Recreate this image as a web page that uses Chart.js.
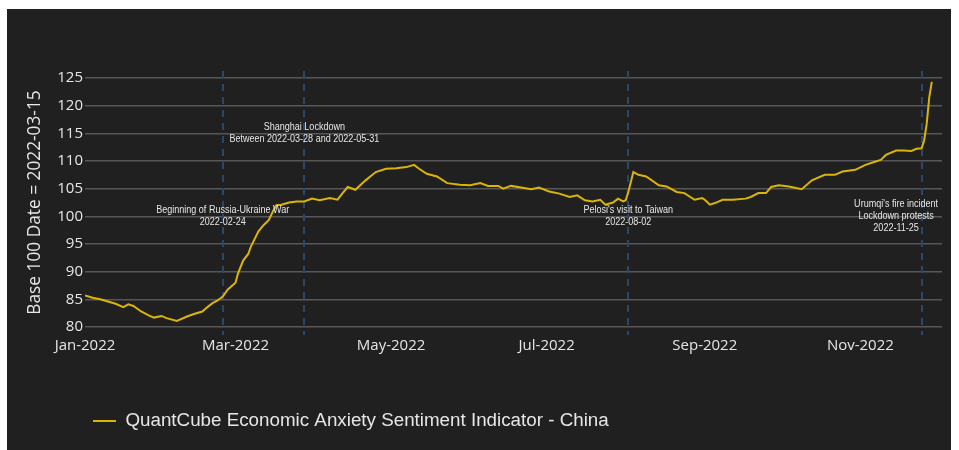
<!DOCTYPE html>
<html>
<head>
<meta charset="utf-8">
<script src="https://cdn.jsdelivr.net/npm/chart.js@4.4.1/dist/chart.umd.min.js"></script>
<style>
  html, body { margin: 0; padding: 0; background: #ffffff; }
  #wrap { position: absolute; left: 7px; top: 9px; width: 944px; height: 441px; background: #202020; }
  canvas { display: block; }
</style>
</head>
<body>
<div id="wrap"><canvas id="c" width="944" height="441"></canvas></div>
<script>
// ---- data ----
const SERIES_LABEL = 'QuantCube Economic Anxiety Sentiment Indicator - China';
const DATES = [
  '2022-01-01','2022-01-04','2022-01-07','2022-01-10','2022-01-13','2022-01-16','2022-01-18','2022-01-20',
  '2022-01-23','2022-01-26','2022-01-28','2022-01-31','2022-02-02','2022-02-06','2022-02-10','2022-02-13',
  '2022-02-16','2022-02-18','2022-02-20','2022-02-22','2022-02-24','2022-02-26','2022-03-01','2022-03-02',
  '2022-03-04','2022-03-06','2022-03-07','2022-03-10','2022-03-12','2022-03-14','2022-03-16','2022-03-17',
  '2022-03-19','2022-03-22','2022-03-25','2022-03-28','2022-03-31','2022-04-03','2022-04-07','2022-04-10',
  '2022-04-12','2022-04-14','2022-04-17','2022-04-21','2022-04-25','2022-04-29','2022-05-03','2022-05-07',
  '2022-05-10','2022-05-12','2022-05-15','2022-05-19','2022-05-23','2022-05-28','2022-06-01','2022-06-05',
  '2022-06-08','2022-06-12','2022-06-14','2022-06-17','2022-06-21','2022-06-25','2022-06-28','2022-07-02',
  '2022-07-06','2022-07-10','2022-07-13','2022-07-16','2022-07-19','2022-07-22','2022-07-24','2022-07-27',
  '2022-07-29','2022-07-31','2022-08-01','2022-08-02','2022-08-04','2022-08-06','2022-08-09','2022-08-14',
  '2022-08-17','2022-08-21','2022-08-24','2022-08-28','2022-08-31','2022-09-01','2022-09-03','2022-09-05',
  '2022-09-08','2022-09-12','2022-09-17','2022-09-19','2022-09-22','2022-09-25','2022-09-27','2022-09-30',
  '2022-10-04','2022-10-09','2022-10-13','2022-10-18','2022-10-22','2022-10-25','2022-10-30','2022-11-03',
  '2022-11-07','2022-11-09','2022-11-11','2022-11-15','2022-11-18','2022-11-21','2022-11-23','2022-11-25',
  '2022-11-26','2022-11-27','2022-11-28','2022-11-29'
];
const VALUES = [
  85.7, 85.3, 85.0, 84.6, 84.2, 83.6, 84.1, 83.8,
  82.8, 82.1, 81.7, 82.0, 81.6, 81.1, 81.9, 82.4,
  82.8, 83.6, 84.3, 84.8, 85.5, 86.8, 88.0, 89.7,
  92.0, 93.2, 94.5, 97.3, 98.4, 99.3, 101.2, 102.0,
  102.1, 102.5, 102.7, 102.7, 103.2, 102.9, 103.3, 103.0,
  104.2, 105.3, 104.8, 106.5, 108.0, 108.6, 108.7, 108.9,
  109.3, 108.6, 107.7, 107.2, 106.0, 105.7, 105.6, 106.0,
  105.5, 105.5, 105.0, 105.5, 105.2, 104.9, 105.2, 104.5,
  104.1, 103.5, 103.8, 102.9, 102.7, 103.0, 102.1, 102.5,
  103.2, 102.7, 102.9, 104.4, 108.0, 107.5, 107.2, 105.6,
  105.4, 104.4, 104.2, 103.0, 103.3, 103.0, 102.1, 102.4,
  103.0, 103.0, 103.2, 103.5, 104.2, 104.2, 105.3, 105.6,
  105.4, 104.9, 106.5, 107.5, 107.5, 108.1, 108.4, 109.3,
  109.9, 110.2, 111.1, 111.9, 111.9, 111.8, 112.2, 112.3,
  113.7, 116.7, 121.5, 124.3
];
const X_TICK_DATES = ['2022-01-01','2022-03-01','2022-05-01','2022-07-01','2022-09-01','2022-11-01'];
const X_TICK_LABELS = ['Jan-2022','Mar-2022','May-2022','Jul-2022','Sep-2022','Nov-2022'];
const X_RANGE = ['2022-01-01','2022-12-03'];
const Y_RANGE = [80, 125];
const Y_STEP = 5;
const Y_TITLE = 'Base 100 Date = 2022-03-15';
const EVENT_DATES = ['2022-02-24','2022-03-28','2022-08-02','2022-11-25'];
const NOTE_DATES = ['2022-02-24','2022-03-28','2022-08-02','2022-11-15'];
const NOTE_VALUES = [100, 115, 100, 100];
const NOTE_TEXTS = [
  ['Beginning of Russia-Ukraine War', '2022-02-24'],
  ['Shanghai Lockdown', 'Between 2022-03-28 and 2022-05-31'],
  ["Pelosi's visit to Taiwan", '2022-08-02'],
  ["Urumqi's fire incident", 'Lockdown protests', '2022-11-25']
];

// ---- helpers ----
const DAY0 = Date.UTC(2022, 0, 1);
function dayOf(s) {
  const p = s.split('-').map(Number);
  return (Date.UTC(p[0], p[1] - 1, p[2]) - DAY0) / 86400000;
}
const points = DATES.map((d, i) => ({ x: dayOf(d), y: VALUES[i] }));
const tickDays = X_TICK_DATES.map(dayOf);

const LINE_COLOR = '#dbb506';
const TEXT_COLOR = '#e6e6e6';

const annotationPlugin = {
  id: 'events',
  beforeDatasetsDraw(chart) {
    const { ctx, chartArea, scales } = chart;
    ctx.save();
    ctx.strokeStyle = '#2a4669';
    ctx.lineWidth = 2;
    ctx.setLineDash([7, 6]);
    EVENT_DATES.forEach(d => {
      const x = Math.round(scales.x.getPixelForValue(dayOf(d)));
      ctx.beginPath();
      ctx.moveTo(x, chartArea.top - 7);
      ctx.lineTo(x, chartArea.bottom + 8);
      ctx.stroke();
    });
    ctx.restore();
  },
  afterDatasetsDraw(chart) {
    const { ctx, scales } = chart;
    ctx.save();
    ctx.fillStyle = TEXT_COLOR;
    ctx.font = '11px "Liberation Sans", Arial, sans-serif';
    ctx.textAlign = 'center';
    ctx.textBaseline = 'middle';
    const lh = 12;
    NOTE_TEXTS.forEach((lines, i) => {
      const x = scales.x.getPixelForValue(dayOf(NOTE_DATES[i]));
      const y = scales.y.getPixelForValue(NOTE_VALUES[i]);
      const y0 = y - (lines.length - 1) * lh / 2;
      lines.forEach((t, j) => {
        ctx.save();
        ctx.translate(x, y0 + j * lh);
        ctx.scale(0.82, 1);
        ctx.fillText(t, 0, 0);
        ctx.restore();
      });
    });
    ctx.restore();
  }
};

const legendPlace = {
  id: 'legendPlace',
  afterLayout(chart) {
    const lg = chart.legend;
    if (!lg) return;
    const h = lg.height;
    lg.left = 76;
    lg.right = lg.left + lg.width;
    lg.top = 412 - h / 2;
    lg.bottom = lg.top + h;
  }
};

new Chart(document.getElementById('c'), {
  type: 'line',
  data: {
    datasets: [{
      label: SERIES_LABEL,
      data: points,
      borderColor: LINE_COLOR,
      backgroundColor: LINE_COLOR,
      borderWidth: 2,
      pointRadius: 0,
      tension: 0,
      fill: false
    }]
  },
  options: {
    responsive: false,
    animation: false,
    layout: { padding: { left: 0, top: 69, right: 9, bottom: 0 } },
    plugins: {
      legend: {
        position: 'bottom',
        align: 'start',
        labels: {
          usePointStyle: true,
          pointStyle: 'line',
          pointStyleWidth: 23,
          padding: 10,
          color: TEXT_COLOR,
          font: { family: '"Liberation Sans", Arial, sans-serif', size: 18.8 }
        }
      },
      tooltip: { enabled: false }
    },
    scales: {
      x: {
        type: 'linear',
        min: dayOf(X_RANGE[0]),
        max: dayOf(X_RANGE[1]),
        grid: { display: false, drawTicks: false },
        border: { display: false },
        afterBuildTicks(scale) { scale.ticks = tickDays.map(v => ({ value: v })); },
        afterFit(scale) { scale.height = 123 - scale.chart.legend.height; },
        ticks: {
          autoSkip: false,
          maxRotation: 0,
          padding: 10,
          color: TEXT_COLOR,
          font: { family: '"Open Sans", sans-serif', size: 15 },
          callback(v) { const i = tickDays.indexOf(v); return i >= 0 ? X_TICK_LABELS[i] : ''; }
        }
      },
      y: {
        min: Y_RANGE[0],
        max: Y_RANGE[1],
        grid: { color: '#575757', lineWidth: 1.5, drawTicks: false },
        border: { display: false },
        afterFit(scale) { scale.width = 78; },
        ticks: {
          stepSize: Y_STEP,
          padding: 2,
          color: TEXT_COLOR,
          font: { family: '"Open Sans", sans-serif', size: 15 }
        },
        title: {
          display: true,
          text: Y_TITLE,
          color: TEXT_COLOR,
          padding: { top: 18, bottom: 0 },
          font: { family: '"Open Sans", sans-serif', size: 17.3 }
        }
      }
    }
  },
  plugins: [annotationPlugin, legendPlace]
});
</script>
</body>
</html>
